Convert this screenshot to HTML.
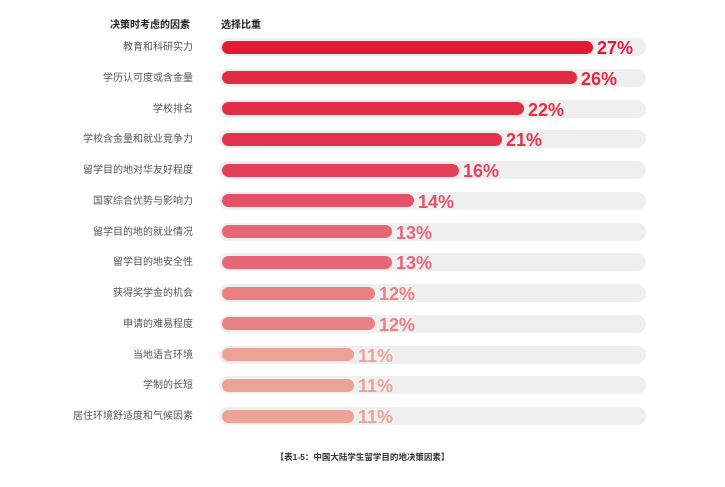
<!DOCTYPE html>
<html><head><meta charset="utf-8"><style>
body{margin:0;width:725px;height:487px;background:#fff;position:relative;overflow:hidden;font-family:"Liberation Sans","Noto Sans CJK SC",sans-serif}
.h{position:absolute;top:16px;font-size:10px;font-weight:bold;color:#222}
.l{position:absolute;right:532px;font-size:10px;color:#555;white-space:nowrap;line-height:14px}
.t{position:absolute;left:219px;width:427px;height:18px;border-radius:9px;background:#efefef}
.b{position:absolute;left:222px;height:13px;border-radius:7px}
.p{position:absolute;font-size:18px;font-weight:bold;line-height:20px}
.c{position:absolute;top:451px;left:0;width:725px;text-align:center;font-size:8.5px;font-weight:bold;color:#333}
</style></head><body>
<div class="h" style="left:110px">决策时考虑的因素</div>
<div class="h" style="left:221px">选择比重</div>
<div id="r"></div>
<div class="c">【表1-5：中国大陆学生留学目的地决策因素】</div>
<script>
var d=[["教育和科研实力",27,593,"#e11a37"],["学历认可度或含金量",26,577,"#e22a42"],["学校排名",22,524,"#e22e47"],["学校含金量和就业竞争力",21,502,"#e3334c"],["留学目的地对华友好程度",16,459,"#e3415a"],["国家综合优势与影响力",14,414,"#e45269"],["留学目的地的就业情况",13,392,"#e56677"],["留学目的地安全性",13,392,"#e56677"],["获得奖学金的机会",12,375,"#e88084"],["申请的难易程度",12,375,"#e88084"],["当地语言环境",11,354,"#eba397"],["学制的长短",11,354,"#eba397"],["居住环境舒适度和气候因素",11,354,"#eba397"]];
var h="";d.forEach(function(r,i){var y=47+i*30.75;
h+='<div class="l" style="top:'+(y-6)+'px">'+r[0]+'</div><div class="t" style="top:'+(y-9)+'px"></div><div class="b" style="top:'+(y-6.5)+'px;width:'+(r[2]-222)+'px;background:'+r[3]+'"></div><div class="p" style="top:'+(y-9)+'px;left:'+(r[2]+4)+'px;color:'+r[3]+'">'+r[1]+'%</div>';});
document.getElementById("r").innerHTML=h;
</script>
</body></html>
